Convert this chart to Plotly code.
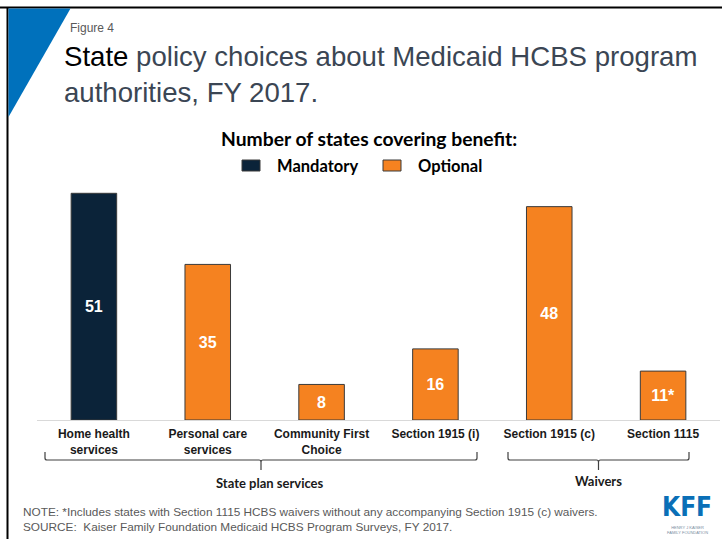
import plotly.graph_objects as go

# Benefit categories and number of states covering each (FY 2017)
categories = ["Home health<br>services", "Personal care<br>services", "Community First<br>Choice",
              "Section 1915 (i)", "Section 1915 (c)", "Section 1115"]
states = [51, 35, 8, 16, 48, 11]
benefit_type = ["Mandatory", "Optional", "Optional", "Optional", "Optional", "Optional"]
footnote_mark = ["", "", "", "", "", "*"]
groups = ["State plan services", "Waivers"]
legend_order = ["Mandatory", "Optional"]

colors = {"Mandatory": "#0B2339", "Optional": "#F58220"}

W, H = 722, 539
L, R, T, B = 37, 2, 185, 119
PW, PH = W - L - R, H - T - B


def px(x):
    return (x - L) / PW


def py(y):
    return (H - B - y) / PH


fig = go.Figure()
for kind in legend_order:
    idx = [i for i, k in enumerate(benefit_type) if k == kind]
    fig.add_trace(go.Bar(
        x=[categories[i] for i in idx],
        y=[states[i] for i in idx],
        text=[f"{states[i]}{footnote_mark[i]}" for i in idx],
        name=kind,
        width=0.4,
        marker=dict(color=colors[kind], line=dict(color="#3a3a3a", width=1)),
        textposition="inside",
        insidetextanchor="middle",
        textangle=0,
        textfont=dict(family="Liberation Sans, Arial, sans-serif", size=16, color="white", weight="bold"),
        hoverinfo="skip",
        showlegend=False,
    ))

# vertical scale: 51 states span from the baseline (y=420px) to y=193px
y_top = PH / ((420 - 193.3) / 51)

shapes = []
annotations = []

# frame lines at top and left
shapes.append(dict(type="line", xref="paper", yref="paper", x0=px(0), x1=px(W), y0=py(7.5), y1=py(7.5),
                   line=dict(color="black", width=2)))
shapes.append(dict(type="line", xref="paper", yref="paper", x0=px(7.5), x1=px(7.5), y0=py(7.5), y1=py(H),
                   line=dict(color="black", width=2)))
# blue corner triangle
shapes.append(dict(type="path", xref="paper", yref="paper",
                   path=f"M {px(8.5)},{py(8.5)} L {px(70.5)},{py(8.5)} L {px(8.5)},{py(117)} Z",
                   fillcolor="#0071BC", line=dict(width=0)))

# group brackets under the category labels
bracket_spans = {"State plan services": (45, 477), "Waivers": (508, 689)}
label_pos = {"State plan services": (270, 483), "Waivers": (598, 481)}
for name in groups:
    xa, xb = bracket_spans[name]
    xm = (xa + xb) / 2
    r = 2
    path = (f"M {px(xa)},{py(452)} L {px(xa)},{py(460 - r)} Q {px(xa)},{py(460)} {px(xa + r)},{py(460)} "
            f"L {px(xm - r)},{py(460)} Q {px(xm)},{py(460)} {px(xm)},{py(460 + r)} L {px(xm)},{py(470)} "
            f"M {px(xm)},{py(460 + r)} Q {px(xm)},{py(460)} {px(xm + r)},{py(460)} "
            f"L {px(xb - r)},{py(460)} Q {px(xb)},{py(460)} {px(xb)},{py(460 - r)} L {px(xb)},{py(452)}")
    shapes.append(dict(type="path", xref="paper", yref="paper", path=path,
                       line=dict(color="#404040", width=1.2)))
    lx, ly = label_pos[name]
    annotations.append(dict(xref="paper", yref="paper", x=px(lx), y=py(ly), text=f"<b>{name}</b>",
                            showarrow=False, xanchor="center", yanchor="middle",
                            font=dict(family="Lato, sans-serif", size=13, color="#1a1a1a")))

# legend: swatch and label for each benefit type
legend_swatch_x = {"Mandatory": 242, "Optional": 383}
for kind in legend_order:
    sx = legend_swatch_x[kind]
    shapes.append(dict(type="rect", xref="paper", yref="paper",
                       x0=px(sx), x1=px(sx + 18), y0=py(160), y1=py(171),
                       fillcolor=colors[kind], line=dict(color="#3a3a3a", width=1)))
    annotations.append(dict(xref="paper", yref="paper", x=px(sx + 33), y=py(165.5), text=f"<b>{kind}</b>",
                            showarrow=False, xanchor="left", yanchor="middle",
                            font=dict(family="Lato, sans-serif", size=16.5, color="black")))
annotations.append(dict(xref="paper", yref="paper", x=px(368.5), y=py(138),
                        text="<b>Number of states covering benefit:</b>", showarrow=False,
                        xanchor="center", yanchor="middle",
                        font=dict(family="Lato, sans-serif", size=19.3, color="black")))

# headings
annotations.append(dict(xref="paper", yref="paper", x=px(68), y=py(28), text="Figure 4", showarrow=False,
                        xanchor="left", yanchor="middle",
                        font=dict(family="Liberation Sans, Arial, sans-serif", size=12, color="#595959")))
annotations.append(dict(xref="paper", yref="paper", x=px(62), y=py(74),
                        text="<span style='color:black'>State</span> policy choices about Medicaid HCBS program"
                             "<br>authorities, FY 2017.",
                        showarrow=False, xanchor="left", yanchor="middle", align="left",
                        font=dict(family="Liberation Sans, Arial, sans-serif", size=27.6, color="#3B4654")))
# notes
annotations.append(dict(xref="paper", yref="paper", x=px(21), y=py(519.5),
                        text="NOTE: *Includes states with Section 1115 HCBS waivers without any accompanying "
                             "Section 1915 (c) waivers.<br>SOURCE:  Kaiser Family Foundation Medicaid HCBS "
                             "Program Surveys, FY 2017.",
                        showarrow=False, xanchor="left", yanchor="middle", align="left",
                        font=dict(family="Liberation Sans, Arial, sans-serif", size=11.8, color="#595959")))
# logo
annotations.append(dict(xref="paper", yref="paper", x=px(687), y=py(507), text="<b>KFF</b>", showarrow=False,
                        xanchor="center", yanchor="middle",
                        font=dict(family="Liberation Sans Narrow, DejaVu Sans Condensed, sans-serif",
                                  size=26, color="#0A6FB7")))
annotations.append(dict(xref="paper", yref="paper", x=px(687), y=py(530),
                        text="HENRY J KAISER<br>FAMILY FOUNDATION", showarrow=False,
                        xanchor="center", yanchor="middle",
                        font=dict(family="Liberation Sans, sans-serif", size=4, color="#7a8ea3")))

fig.update_layout(
    width=W, height=H,
    margin=dict(l=L, r=R, t=T, b=B, pad=0),
    paper_bgcolor="white", plot_bgcolor="white",
    barmode="overlay",
    shapes=shapes,
    annotations=annotations,
    showlegend=False,
    xaxis=dict(categoryorder="array", categoryarray=categories, range=[-0.5, 5.5],
               showline=True, linecolor="#d9d9d9", linewidth=1, ticks="", showgrid=False,
               ticklabelstandoff=3,
               tickfont=dict(family="Liberation Sans, Arial, sans-serif", size=12, color="#1a1a1a",
                             weight="bold"), fixedrange=True),
    yaxis=dict(range=[0, y_top], visible=False, fixedrange=True),
)

fig.write_html("out.html")
